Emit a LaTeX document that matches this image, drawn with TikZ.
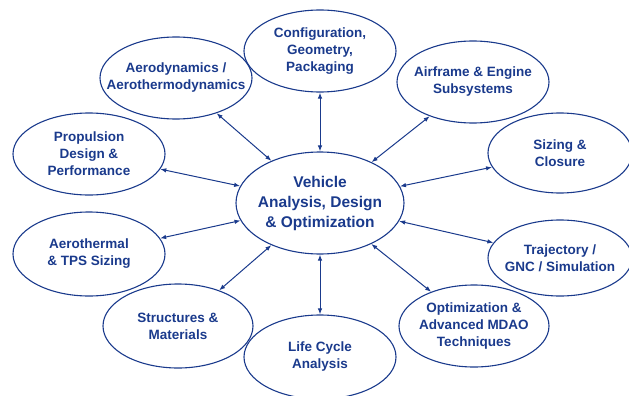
\documentclass[tikz,border=0pt]{standalone}
\usepackage{fontspec}
\setmainfont{Liberation Sans}
\usetikzlibrary{shapes.geometric,arrows.meta}
\definecolor{navy}{HTML}{1A3A8C}

\begin{document}
\begin{tikzpicture}[x=1pt,y=-1pt,
        topic/.style={ellipse, draw=navy, line width=1.1pt, inner sep=0pt,
            minimum width=152pt, minimum height=82pt},
        words/.style={text=navy, align=center, inner sep=0pt,
            font=\bfseries\fontsize{13.5}{17}\selectfont},
        link/.style={draw=navy, line width=1pt,
            {Latex[length=6pt,width=4.5pt]}-{Latex[length=6pt,width=4.5pt]}}]
        \useasboundingbox (0,0) rectangle (629,396);
        % centre
        \node[topic, minimum width=168pt, minimum height=102pt] (veh) at (320,203) {};
        \node[words, font=\bfseries\fontsize{15.5}{20}\selectfont] (veh-t) at (veh) {Vehicle\\Analysis, Design\\\& Optimization};
        % ring
        \node[topic] (cfg) at (320,51) {};
        \node[words] (cfg-t) at (cfg) {Configuration,\\Geometry,\\Packaging};
        \node[topic] (aero) at (176,78) {};
        \node[words] (aero-t) at (aero) {Aerodynamics /\\Aerothermodynamics};
        \node[topic] (prop) at (89,154) {};
        \node[words] (prop-t) at (prop) {Propulsion\\Design \&\\Performance};
        \node[topic] (air) at (473,82) {};
        \node[words] (air-t) at (air) {Airframe \& Engine\\Subsystems};
        \node[topic, minimum width=144pt, minimum height=80pt] (size) at (560,153) {};
        \node[words] (size-t) at (size) {Sizing \&\\Closure};
        \node[topic, minimum width=144pt, minimum height=76pt] (traj) at (560,258) {};
        \node[words] (traj-t) at (traj) {Trajectory /\\GNC / Simulation};
        \node[topic, minimum height=84pt] (aeth) at (89,254) {};
        \node[words] (aeth-t) at (aeth) {Aerothermal\\\& TPS Sizing};
        \node[topic, minimum width=150pt, minimum height=84pt] (str) at (178,326) {};
        \node[words] (str-t) at (str) {Structures \&\\Materials};
        \node[topic, minimum height=84pt] (life) at (320,357) {};
        \node[words] (life-t) at (life) {Life Cycle\\Analysis};
        \node[topic, minimum width=150pt] (opt) at (474,326) {};
        \node[words] (opt-t) at (opt) {Optimization \&\\Advanced MDAO\\Techniques};
        % links
        \foreach \n in {cfg,aero,prop,air,size,traj,aeth,str,life,opt}
            \draw[link] (veh) -- (\n);
\end{tikzpicture}
\end{document}
